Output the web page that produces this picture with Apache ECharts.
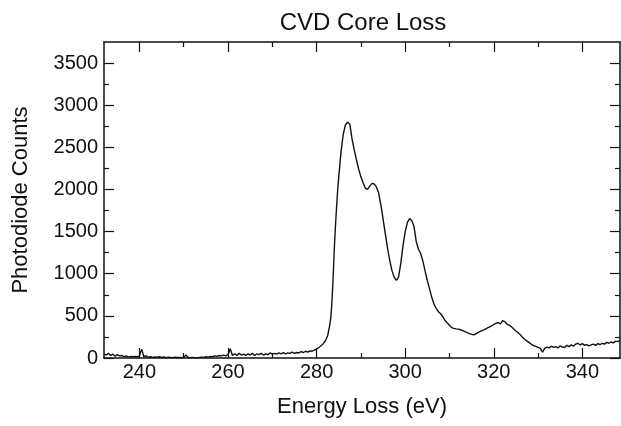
<!DOCTYPE html>
<html>
<head>
<meta charset="utf-8">
<script src="https://cdn.jsdelivr.net/npm/echarts@6.0.0/dist/echarts.min.js"></script>
<style>
  html, body { margin: 0; padding: 0; background: #ffffff; }
  #chart { width: 621px; height: 426px; }
</style>
</head>
<body>
<div id="chart"></div>
<script>
// ---- Data ----
const energy = [
  232, 232.5, 233, 233.5, 234, 234.5, 235, 235.5, 236, 236.5, 237, 237.5, 238, 238.5,
  239, 239.5, 240, 240.5, 241, 241.5, 242, 242.5, 243, 243.5, 244, 244.5, 245, 245.5,
  246, 246.5, 247, 247.5, 248, 248.5, 249, 249.5, 250, 250.5, 251, 251.5, 252, 252.5,
  253, 253.5, 254, 254.5, 255, 255.5, 256, 256.5, 257, 257.5, 258, 258.5, 259, 259.5,
  260, 260.5, 261, 261.5, 262, 262.5, 263, 263.5, 264, 264.5, 265, 265.5, 266, 266.5,
  267, 267.5, 268, 268.5, 269, 269.5, 270, 270.5, 271, 271.5, 272, 272.5, 273, 273.5,
  274, 274.5, 275, 275.5, 276, 276.5, 277, 277.5, 278, 278.5, 279, 279.5,
  280, 280.5, 281, 281.5, 282, 282.5, 283, 283.25, 283.5, 283.75, 284, 284.25, 284.5, 284.75,
  285, 285.5, 286, 286.5, 287, 287.5, 288, 288.5, 289, 289.5, 290, 290.5, 291, 291.5,
  292, 292.5, 293, 293.5, 294, 294.5, 295, 295.5, 296, 296.5, 297, 297.5, 298, 298.5,
  299, 299.5, 300, 300.5, 301, 301.5, 302, 302.5, 303, 303.5, 304, 304.5, 305, 305.5,
  306, 306.5, 307, 307.5, 308, 308.5, 309, 309.5, 310, 310.5, 311, 311.5, 312, 312.5,
  313, 313.5, 314, 314.5, 315, 315.5, 316, 316.5, 317, 317.5, 318, 318.5, 319, 319.5,
  320, 320.5, 321, 321.5, 322, 322.5, 323, 323.5, 324, 324.5, 325, 325.5, 326, 326.5,
  327, 327.5, 328, 328.5, 329, 329.5, 330, 330.5, 331, 331.5, 332, 332.5, 333, 333.5,
  334, 334.5, 335, 335.5, 336, 336.5, 337, 337.5, 338, 338.5, 339, 339.5, 340, 340.5,
  341, 341.5, 342, 342.5, 343, 343.5, 344, 344.5, 345, 345.5, 346, 346.5, 347, 347.5,
  348, 348.5
];
const counts = [
  50, 35, 55, 30, 45, 20, 40, 25, 30, 15, 25, 10, 20, 15,
  20, 12, 25, 105, 15, 25, 10, 15, 8, 12, 10, 15, 8, 12,
  5, 10, 8, 5, 10, 6, 8, 5, 10, 35, 6, 4, 8, 5,
  3, 6, 10, 8, 15, 10, 20, 15, 25, 20, 30, 25, 35, 25,
  40, 110, 30, 50, 30, 55, 35, 45, 30, 50, 35, 55, 30, 50,
  40, 55, 35, 50, 40, 60, 45, 55, 45, 60, 50, 65, 50, 60,
  55, 70, 55, 65, 60, 75, 65, 80, 70, 85, 80, 95,
  105, 125, 145, 170, 205, 265, 400, 500, 700, 980, 1300, 1560, 1780, 1990,
  2150, 2440, 2650, 2765, 2800, 2775, 2600, 2470, 2350, 2240, 2150, 2080, 2015, 2000,
  2040, 2072, 2065, 2030, 1960, 1820, 1650, 1480, 1310, 1160, 1040, 960, 920, 960,
  1120, 1330, 1500, 1610, 1655, 1630, 1560, 1380, 1290, 1240, 1150, 1030, 920, 820,
  720, 640, 590, 550, 525, 490, 445, 415, 390, 360, 352, 346, 342, 335,
  325, 312, 300, 290, 280, 275, 290, 305, 315, 328, 340, 355, 368, 380,
  398, 412, 420, 405, 445, 430, 400, 390, 370, 345, 320, 300, 275, 245,
  222, 200, 182, 162, 148, 138, 125, 115, 70, 115, 130, 120, 140, 125,
  135, 120, 145, 130, 125, 150, 135, 155, 140, 165, 175, 155, 170, 150,
  160, 145, 155, 165, 150, 170, 160, 175, 165, 185, 175, 190, 180, 200,
  195, 210
];
const xMajorTicks = [240, 260, 280, 300, 320, 340];
const xMinorTicks = [250, 270, 290, 310, 330];
const yMajorTicks = [0, 500, 1000, 1500, 2000, 2500, 3000, 3500];
const yMinorTicks = [250, 750, 1250, 1750, 2250, 2750, 3250];
const titleText = 'CVD Core Loss';
const xName = 'Energy Loss (eV)';
const yName = 'Photodiode Counts';

// ---- Chart ----
const X_MIN = 232, X_MAX = 348.5, Y_MIN = 0, Y_MAX = 3750;
const INK = '#111111';
const FONT = 'Liberation Sans, Arial, Helvetica, sans-serif';

const seriesData = energy.map((e, i) => [e, counts[i]]);

function axisBase(min, max) {
  return {
    type: 'value', min: min, max: max,
    splitLine: { show: false },
    axisLine: { show: true, onZero: false, lineStyle: { color: INK, width: 1.5 } },
    axisLabel: { show: false },
    axisTick: { show: true, inside: true, length: 10, lineStyle: { color: INK, width: 1.2 } }
  };
}
function majorAxis(min, max, position, ticks, withLabels, extra) {
  const a = axisBase(min, max);
  a.position = position;
  a.axisTick.customValues = ticks;
  if (withLabels) {
    a.axisLabel = {
      show: true, customValues: ticks, color: INK, fontSize: 20, fontFamily: FONT,
      formatter: function (v) { return String(v); }
    };
  }
  return Object.assign(a, extra || {});
}
function minorAxis(min, max, position, ticks) {
  const a = axisBase(min, max);
  a.position = position;
  a.axisLine = { show: false, onZero: false };
  a.axisTick.length = 5;
  a.axisTick.customValues = ticks;
  return a;
}

const bottomMajor = majorAxis(X_MIN, X_MAX, 'bottom', xMajorTicks, true, {
  name: xName, nameLocation: 'middle', nameGap: 38,
  nameTextStyle: { color: INK, fontSize: 22, fontFamily: FONT }
});
bottomMajor.axisLabel.margin = 4;

const leftMajor = majorAxis(Y_MIN, Y_MAX, 'left', yMajorTicks, true, {
  name: yName, nameLocation: 'middle', nameGap: 72,
  nameTextStyle: { color: INK, fontSize: 22, fontFamily: FONT }
});
leftMajor.axisLabel.margin = 6;

const option = {
  animation: false,
  backgroundColor: '#ffffff',
  title: {
    text: titleText, left: 363, top: 11, textAlign: 'center', padding: 0,
    textStyle: { color: INK, fontSize: 24, fontWeight: 'normal', fontFamily: FONT }
  },
  grid: { left: 104, right: 1, top: 42, bottom: 68, containLabel: false },
  xAxis: [
    bottomMajor,
    minorAxis(X_MIN, X_MAX, 'bottom', xMinorTicks),
    majorAxis(X_MIN, X_MAX, 'top', xMajorTicks, false),
    minorAxis(X_MIN, X_MAX, 'top', xMinorTicks)
  ],
  yAxis: [
    leftMajor,
    minorAxis(Y_MIN, Y_MAX, 'left', yMinorTicks),
    majorAxis(Y_MIN, Y_MAX, 'right', yMajorTicks, false),
    minorAxis(Y_MIN, Y_MAX, 'right', yMinorTicks)
  ],
  series: [{
    type: 'line',
    xAxisIndex: 0, yAxisIndex: 0,
    data: seriesData,
    showSymbol: false, symbol: 'none',
    sampling: null,
    lineStyle: { color: INK, width: 1.4 }
  }]
};

const chart = echarts.init(document.getElementById('chart'), null, { renderer: 'canvas' });
chart.setOption(option);
</script>
</body>
</html>
